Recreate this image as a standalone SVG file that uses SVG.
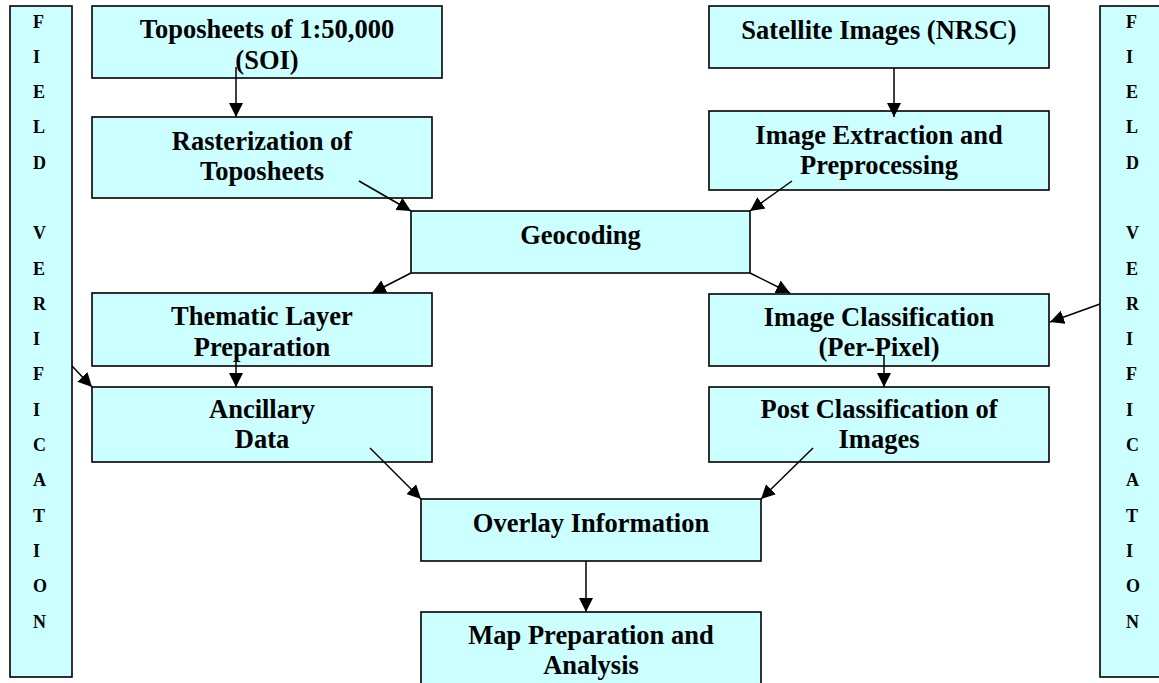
<svg xmlns="http://www.w3.org/2000/svg" width="1159" height="683" viewBox="0 0 1159 683">
<defs>
<marker id="ah" markerUnits="userSpaceOnUse" markerWidth="14" markerHeight="14" refX="14" refY="7" orient="auto" viewBox="0 0 14 14">
<path d="M0,0 L14,7 L0,14 z" fill="#000"/>
</marker>
<style>
.box{fill:#CCFFFF;stroke:#000;stroke-width:1.6}
.t{font-family:"Liberation Serif","Times New Roman",serif;font-weight:bold;font-size:26.5px;fill:#000;text-anchor:middle}
.v{font-family:"Liberation Serif","Times New Roman",serif;font-weight:bold;font-size:18px;fill:#000}
.c{stroke:#000;stroke-width:1.5;fill:none;marker-end:url(#ah)}
</style>
</defs>
<rect width="1159" height="683" fill="#fff"/>
<g id="field-left">
<rect class="box" x="10" y="6" width="62" height="671"/>
<text class="v" x="33" y="27.5"><tspan x="33">F</tspan><tspan x="33" dy="35.3">I</tspan><tspan x="33" dy="35.3">E</tspan><tspan x="33" dy="35.3">L</tspan><tspan x="33" dy="35.3">D</tspan><tspan x="33" dy="70.6">V</tspan><tspan x="33" dy="35.3">E</tspan><tspan x="33" dy="35.3">R</tspan><tspan x="33" dy="35.3">I</tspan><tspan x="33" dy="35.3">F</tspan><tspan x="33" dy="35.3">I</tspan><tspan x="33" dy="35.3">C</tspan><tspan x="33" dy="35.3">A</tspan><tspan x="33" dy="35.3">T</tspan><tspan x="33" dy="35.3">I</tspan><tspan x="33" dy="35.3">O</tspan><tspan x="33" dy="35.3">N</tspan></text>
</g>
<g id="field-right">
<rect class="box" x="1100" y="6" width="70" height="671"/>
<text class="v" x="1126" y="27.5"><tspan x="1126">F</tspan><tspan x="1126" dy="35.3">I</tspan><tspan x="1126" dy="35.3">E</tspan><tspan x="1126" dy="35.3">L</tspan><tspan x="1126" dy="35.3">D</tspan><tspan x="1126" dy="70.6">V</tspan><tspan x="1126" dy="35.3">E</tspan><tspan x="1126" dy="35.3">R</tspan><tspan x="1126" dy="35.3">I</tspan><tspan x="1126" dy="35.3">F</tspan><tspan x="1126" dy="35.3">I</tspan><tspan x="1126" dy="35.3">C</tspan><tspan x="1126" dy="35.3">A</tspan><tspan x="1126" dy="35.3">T</tspan><tspan x="1126" dy="35.3">I</tspan><tspan x="1126" dy="35.3">O</tspan><tspan x="1126" dy="35.3">N</tspan></text>
</g>
<g id="toposheets">
<rect class="box" x="92" y="6" width="350" height="72"/>
<text class="t" x="267" y="37.5">Toposheets of 1:50,000</text>
<text class="t" x="267" y="68.5">(SOI)</text>
</g>
<g id="rasterization">
<rect class="box" x="92" y="117" width="340" height="81"/>
<text class="t" x="262" y="149.5">Rasterization of</text>
<text class="t" x="262" y="180">Toposheets</text>
</g>
<g id="satellite">
<rect class="box" x="709" y="6" width="340" height="62"/>
<text class="t" x="879" y="39">Satellite Images (NRSC)</text>
</g>
<g id="extraction">
<rect class="box" x="709" y="111" width="340" height="79"/>
<text class="t" x="879" y="143.5">Image Extraction and</text>
<text class="t" x="879" y="174">Preprocessing</text>
</g>
<g id="geocoding">
<rect class="box" x="411" y="211" width="339" height="62"/>
<text class="t" x="580.5" y="243.5">Geocoding</text>
</g>
<g id="thematic">
<rect class="box" x="92" y="293" width="340" height="73"/>
<text class="t" x="262" y="325">Thematic Layer</text>
<text class="t" x="262" y="356">Preparation</text>
</g>
<g id="classification">
<rect class="box" x="709" y="294" width="340" height="72"/>
<text class="t" x="879" y="325.5">Image Classification</text>
<text class="t" x="879" y="356">(Per-Pixel)</text>
</g>
<g id="ancillary">
<rect class="box" x="92" y="387" width="340" height="75"/>
<text class="t" x="262" y="418">Ancillary</text>
<text class="t" x="262" y="448">Data</text>
</g>
<g id="postclass">
<rect class="box" x="709" y="387" width="340" height="75"/>
<text class="t" x="879" y="418">Post Classification of</text>
<text class="t" x="879" y="448">Images</text>
</g>
<g id="overlay">
<rect class="box" x="421" y="499" width="340" height="62"/>
<text class="t" x="591" y="531.5">Overlay Information</text>
</g>
<g id="map">
<rect class="box" x="421" y="612" width="340" height="90"/>
<text class="t" x="591" y="644">Map Preparation and</text>
<text class="t" x="591" y="674">Analysis</text>
</g>
<g id="connectors">
<line class="c" x1="236" y1="67" x2="236" y2="117"/>
<line class="c" x1="359" y1="181" x2="411" y2="211"/>
<line class="c" x1="792" y1="181" x2="750" y2="211"/>
<line class="c" x1="894" y1="68" x2="894" y2="117"/>
<line class="c" x1="411" y1="273" x2="372" y2="293"/>
<line class="c" x1="750" y1="273" x2="790" y2="293"/>
<line class="c" x1="236" y1="355" x2="236" y2="387"/>
<line class="c" x1="884" y1="355" x2="884" y2="387"/>
<line class="c" x1="72" y1="366" x2="92" y2="387"/>
<line class="c" x1="1100" y1="304" x2="1050" y2="322"/>
<line class="c" x1="370" y1="448" x2="421" y2="499"/>
<line class="c" x1="813" y1="448" x2="761" y2="499"/>
<line class="c" x1="586" y1="561" x2="586" y2="612"/>
</g>
</svg>
